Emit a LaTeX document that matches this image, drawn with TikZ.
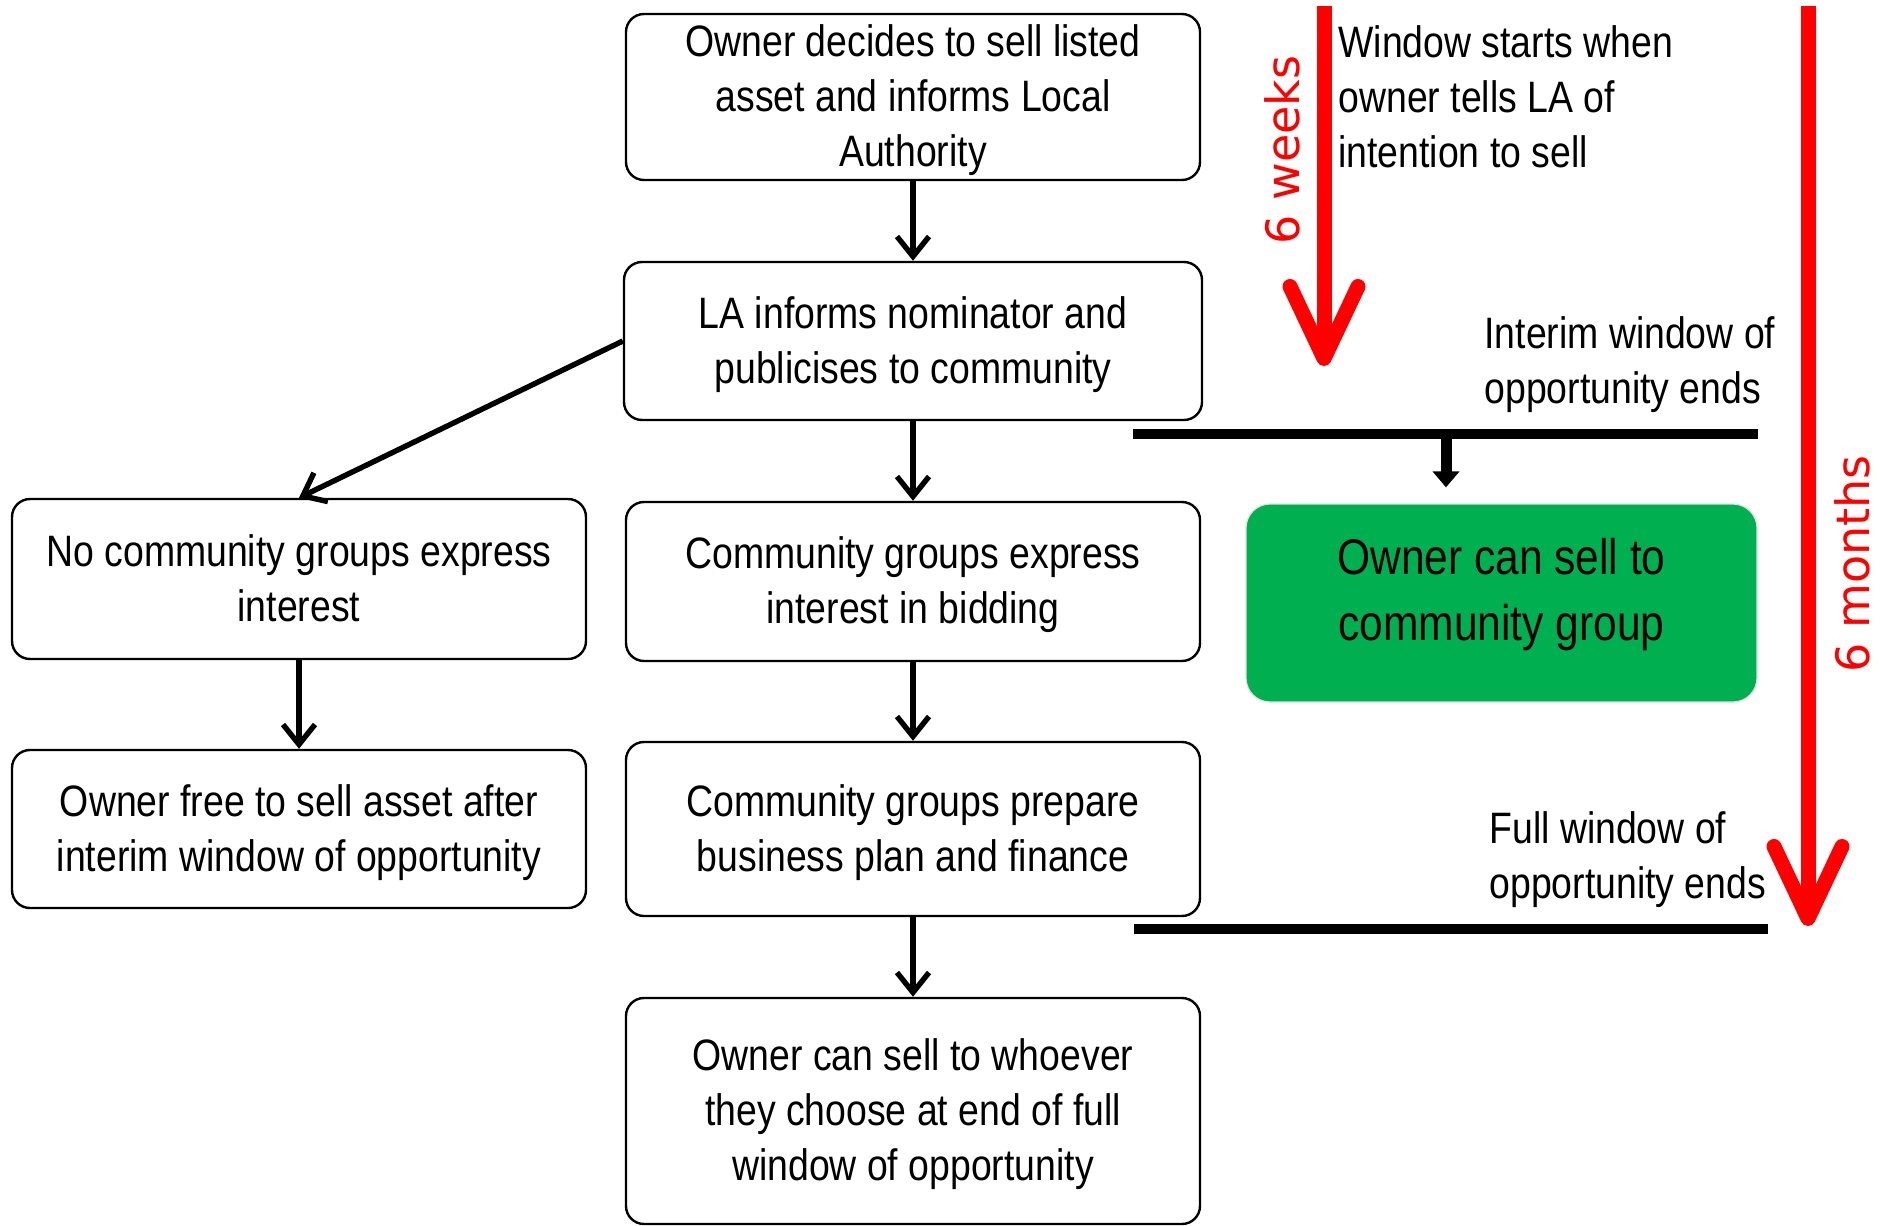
\documentclass[tikz,border=0pt]{standalone}
\usepackage{fontspec}
\setmainfont{Liberation Sans}[FakeStretch=0.85]
\newfontfamily\spanfont{DejaVu Sans}
\usetikzlibrary{arrows.meta}
\definecolor{sellgreen}{RGB}{0,176,80}

\begin{document}
\begin{tikzpicture}[x=.5pt,y=-.5pt,
  stepbox/.style={draw,line width=1.2pt,rounded corners=9pt,align=center,minimum width=287pt,inner sep=0pt,text depth=1pt,font=\fontsize{22}{27.5}\selectfont},
  sellbox/.style={draw=black!12,line width=.6pt,fill=sellgreen,rounded corners=12pt,align=center,minimum width=255.5pt,minimum height=99pt,inner sep=0pt,text depth=14pt,font=\fontsize{25}{33}\selectfont},
  flow/.style={line width=2.7pt,-{Straight Barb[length=10pt,width=16pt]}},
  period/.style={red,line width=7.5pt,-{Straight Barb[length=36pt,width=34pt,round]}},
  cutoff/.style={line width=5pt},
  note/.style={anchor=west,align=left,inner sep=0pt,font=\fontsize{22}{27.5}\selectfont},
  span/.style={red,rotate=90,inner sep=0pt,font=\spanfont\fontsize{23}{26}\selectfont}]
\path[use as bounding box] (0,0) rectangle (1881,1226);
% main column
\node[stepbox,minimum height=83pt] (decide) at (913,97) {Owner decides to sell listed\\asset and informs Local\\Authority};
\node[stepbox,minimum height=79pt,minimum width=289pt] (inform) at (913,341) {LA informs nominator and\\publicises to community};
\node[stepbox,minimum height=79.5pt] (interest) at (913,581.5) {Community groups express\\interest in bidding};
\node[stepbox,minimum height=87pt] (prepare) at (913,829) {Community groups prepare\\business plan and finance};
\node[stepbox,minimum height=113pt] (whoever) at (913,1111) {Owner can sell to whoever\\they choose at end of full\\window of opportunity};
% left column
\node[stepbox,minimum height=80pt] (nointerest) at (299,579) {No community groups express\\interest};
\node[stepbox,minimum height=79pt] (free) at (299,829) {Owner free to sell asset after\\interim window of opportunity};
% right column
\node[sellbox] (sell) at (1501.5,603) {Owner can sell to\\community group};
\node[note] (start) at (1338,97) {Window starts when\\owner tells LA of\\intention to sell};
\node[note] (interim) at (1484,365) {Interim window of\\opportunity ends};
\node[note] (fullend) at (1489,860) {Full window of\\opportunity ends};
\node[span] (weeks) at (1282,150) {6 weeks};
\node[span] (months) at (1852,564) {6 months};
\coordinate (wk-top) at (1324,6);
\coordinate (wk-end) at (1324,366);
\coordinate (mo-top) at (1808,6);
\coordinate (mo-end) at (1808,926);
\coordinate (int-l) at (1133,434);
\coordinate (int-r) at (1758,434);
\coordinate (full-l) at (1134,929);
\coordinate (full-r) at (1768,929);
\coordinate (gate) at (1446,434);
% connectors
\draw[flow] (decide) -- (inform);
\draw[flow] (inform) -- (interest);
\draw[flow] (interest) -- (prepare);
\draw[flow] (prepare) -- (whoever);
\draw[flow] (inform.west) -- (nointerest.north);
\draw[flow] (nointerest) -- (free);
\draw[period] (wk-top) -- (wk-end);
\draw[period] (mo-top) -- (mo-end);
\draw[cutoff] (int-l) -- (int-r);
\draw[cutoff] (full-l) -- (full-r);
\draw[line width=5.5pt,-{Triangle[length=8pt,width=13pt]},shorten >=8pt] (gate) -- (gate |- sell.north);
\end{tikzpicture}
\end{document}
